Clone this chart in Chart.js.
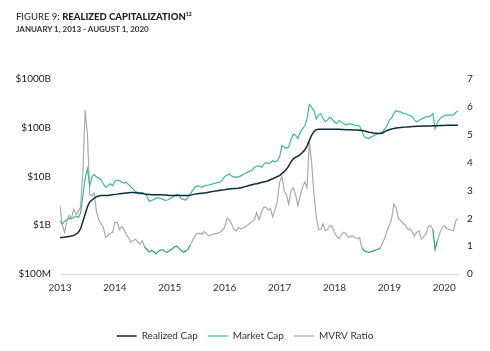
<!DOCTYPE html>
<html>
<head>
<meta charset="utf-8">
<script src="https://cdn.jsdelivr.net/npm/chart.js@4/dist/chart.umd.min.js"></script>
<style>
  body { margin: 0; background: #fff; }
  #wrap { position: relative; width: 490px; height: 351px; }
  #title { position: absolute; left: 16px; top: 11px; font-family: Lato, sans-serif; font-size: 9.5px; color: #222; white-space: nowrap; }
  #title b { font-weight: 900; }
  #title sup { font-size: 5px; font-weight: 900; }
  #sub { position: absolute; left: 16px; top: 24px; font-family: Lato, sans-serif; font-size: 8px; font-weight: 700; color: #333; white-space: nowrap; }
  canvas { position: absolute; left: 0; top: 0; }
</style>
</head>
<body>
<div id="wrap">
  <canvas id="chart" width="490" height="351"></canvas>
  <div id="title">FIGURE 9: <b>REALIZED CAPITALIZATION</b><sup>12</sup></div>
  <div id="sub">JANUARY 1, 2013 - AUGUST 1, 2020</div>
</div>
<script>
// months since Jan 1, 2013 (twice a month)
const months = [
  0, 0.5, 1, 1.5, 2, 2.5, 3, 3.5, 4, 4.5, 5, 5.5, 6, 6.5, 7, 7.5, 8, 8.5, 9, 9.5,
  10, 10.5, 11, 11.5, 12, 12.5, 13, 13.5, 14, 14.5, 15, 15.5, 16, 16.5, 17, 17.5, 18, 18.5, 19, 19.5,
  20, 20.5, 21, 21.5, 22, 22.5, 23, 23.5, 24, 24.5, 25, 25.5, 26, 26.5, 27, 27.5, 28, 28.5, 29, 29.5,
  30, 30.5, 31, 31.5, 32, 32.5, 33, 33.5, 34, 34.5, 35, 35.5, 36, 36.5, 37, 37.5, 38, 38.5, 39, 39.5,
  40, 40.5, 41, 41.5, 42, 42.5, 43, 43.5, 44, 44.5, 45, 45.5, 46, 46.5, 47, 47.5, 48, 48.5, 49, 49.5,
  50, 50.5, 51, 51.5, 52, 52.5, 53, 53.5, 54, 54.5, 55, 55.5, 56, 56.5, 57, 57.5, 58, 58.5, 59, 59.5,
  60, 60.5, 61, 61.5, 62, 62.5, 63, 63.5, 64, 64.5, 65, 65.5, 66, 66.5, 67, 67.5, 68, 68.5, 69, 69.5,
  70, 70.5, 71, 71.5, 72, 72.5, 73, 73.5, 74, 74.5, 75, 75.5, 76, 76.5, 77, 77.5, 78, 78.5, 79, 79.5,
  80, 80.5, 81, 81.5, 82, 82.5, 83, 83.5, 84, 84.5, 85, 85.5, 86, 86.5, 87
];

// billions USD
const realizedCap = [
  0.56, 0.56, 0.57, 0.58, 0.59, 0.6, 0.62, 0.66, 0.71, 0.85,
  1.2, 1.7, 2.4, 3.0, 3.3, 3.6, 3.85, 4.0, 4.06, 4.06,
  4.1, 4.1, 4.15, 4.2, 4.3, 4.35, 4.45, 4.5, 4.55, 4.6,
  4.65, 4.7, 4.7, 4.65, 4.6, 4.5, 4.5, 4.4, 4.3, 4.25,
  4.2, 4.2, 4.2, 4.2, 4.2, 4.18, 4.15, 4.12, 4.1, 4.08,
  4.06, 4.06, 4.06, 4.06, 4.06, 4.06, 4.06, 4.15, 4.25, 4.35,
  4.45, 4.5, 4.55, 4.6, 4.65, 4.75, 4.85, 4.95, 5.05, 5.1,
  5.2, 5.3, 5.35, 5.45, 5.55, 5.6, 5.65, 5.7, 5.75, 5.9,
  6.0, 6.2, 6.4, 6.6, 6.8, 7.0, 7.1, 7.3, 7.5, 7.7,
  7.9, 8.2, 8.6, 9.0, 9.5, 10.0, 10.4, 11.5, 12.6, 14,
  16.5, 20, 23, 25, 26, 28, 31, 35, 42, 55,
  70, 83, 91, 93, 93, 93, 93, 93, 93, 93,
  93, 93, 93, 92.5, 92, 91.5, 91, 90.5, 90, 90,
  90, 89, 88, 86, 84, 81, 80, 78, 77, 76,
  76, 78, 83, 88, 91, 94, 97, 99, 100, 101,
  102, 103, 104, 105, 106, 106, 107, 107, 107, 108,
  108, 109, 109, 110, 110, 110, 111, 111, 111, 112,
  112, 112, 113, 113, 113
];

const marketCap = [
  1.24, 1.06, 1.2, 1.3, 1.4, 1.35, 1.45, 1.55, 1.45, 1.8,
  4.0, 9.0, 14.4, 6.5, 10.0, 11, 9.7, 9.3, 8.5, 7.0,
  6.0, 6.5, 7.1, 6.5, 8.0, 8.3, 8.3, 7.6, 7.3, 7.6,
  6.8, 6.1, 5.5, 4.9, 4.7, 4.7, 4.7, 4.4, 4.0, 3.1,
  3.2, 3.4, 3.6, 3.7, 3.55, 3.4, 3.25, 3.3, 3.47, 3.7,
  4.0, 4.3, 4.2, 3.5, 3.4, 3.3, 3.75, 4.4, 5.2, 6.0,
  6.4, 6.3, 6.0, 6.4, 6.6, 6.7, 6.9, 7.1, 7.3, 7.5,
  7.6, 8.5, 10.0, 10.6, 11.3, 10.2, 9.7, 9.8, 9.7, 10.3,
  11.0, 11.5, 12.3, 13.0, 13.5, 15.5, 16, 16.5, 15.5, 17.5,
  19.5, 18.5, 19, 21, 20, 21, 25, 43, 40, 38,
  40, 58, 74, 70, 60, 80, 95, 110, 150, 300,
  260, 230, 150, 180, 195, 155, 132, 145, 165, 150,
  130, 122, 140, 130, 122, 114, 120, 120, 116, 113,
  112, 108, 85, 65, 62, 60, 65, 68, 72, 76,
  78, 82, 95, 110, 143, 160, 200, 225, 212, 212,
  200, 195, 185, 178, 168, 145, 132, 143, 150, 160,
  167, 167, 175, 196, 96, 128, 150, 168, 175, 181,
  181, 181, 186, 205, 222
];

const mvrvRatio = [
  2.45, 1.75, 1.5, 1.9, 2.1, 2.0, 2.33, 2.15, 2.25, 2.4,
  3.7, 5.88, 5.0, 2.85, 2.8, 2.9, 2.2, 1.95, 1.8, 1.65,
  1.3, 1.4, 1.45, 1.5, 1.85, 1.85, 1.6, 1.7, 1.6, 1.4,
  1.3, 1.15, 1.2, 1.25, 1.15, 1.08, 1.19, 0.97, 0.88, 0.78,
  0.85, 0.8, 0.72, 0.82, 0.86, 0.87, 0.8, 0.78, 0.85, 0.9,
  0.97, 1.0, 0.92, 0.85, 0.78, 0.83, 0.89, 1.05, 1.2, 1.37,
  1.45, 1.47, 1.43, 1.52, 1.45, 1.37, 1.4, 1.43, 1.45, 1.47,
  1.5, 1.58, 1.67, 2.0, 1.95, 1.8, 1.6, 1.55, 1.67, 1.62,
  1.65, 1.7, 1.75, 1.82, 1.88, 1.95, 2.2, 1.95, 2.2, 2.4,
  2.4, 2.3, 2.35, 2.05, 2.3, 2.6, 3.3, 3.5, 3.0, 2.85,
  2.5, 3.0, 3.1, 2.85, 2.45, 2.8, 3.1, 3.3, 3.1, 4.74,
  4.0, 2.9, 2.1, 1.6, 1.6, 1.8, 1.55, 1.6, 1.75, 1.7,
  1.49, 1.35, 1.27, 1.4, 1.5, 1.45, 1.31, 1.35, 1.37, 1.3,
  1.27, 1.3, 0.95, 0.83, 0.8, 0.77, 0.8, 0.83, 0.86, 0.89,
  0.93, 1.1, 1.3, 1.55, 1.75, 2.0, 2.52, 2.35, 2.0, 1.91,
  1.82, 1.75, 1.61, 1.61, 1.5, 1.37, 1.5, 1.55, 1.25, 1.35,
  1.43, 1.7, 1.75, 1.6, 0.89, 1.2, 1.45, 1.65, 1.73, 1.65,
  1.6, 1.58, 1.55, 1.9, 2.0
];

const yearTicks = [2013, 2014, 2015, 2016, 2017, 2018, 2019, 2020];
const capTicks = [0.1, 1, 10, 100, 1000];
const capLabels = ['$100M', '$1B', '$10B', '$100B', '$1000B'];

function toPoints(values) {
  return values.map((v, i) => ({ x: 2013 + months[i] / 12, y: v }));
}

const font = { family: 'Lato, sans-serif', size: 10 };

new Chart(document.getElementById('chart'), {
  type: 'line',
  data: {
    datasets: [
      {
        label: 'Realized Cap',
        data: toPoints(realizedCap),
        yAxisID: 'cap',
        borderColor: '#0d2b3a',
        borderWidth: 1.5,
        pointRadius: 0,
        tension: 0
      },
      {
        label: 'Market Cap',
        data: toPoints(marketCap),
        yAxisID: 'cap',
        borderColor: '#3db996',
        borderWidth: 1.2,
        pointRadius: 0,
        tension: 0
      },
      {
        label: 'MVRV Ratio',
        data: toPoints(mvrvRatio),
        yAxisID: 'ratio',
        borderColor: '#aaaaaa',
        borderWidth: 1.2,
        pointRadius: 0,
        tension: 0,
        segment: {
          // below 1 the ratio is drawn green
          borderColor: ctx => {
            const a = ctx.p0.parsed.y, b = ctx.p1.parsed.y;
            if (Math.max(a, b) < 1.1 || Math.min(a, b) < 0.92) return '#22a862';
            return undefined;
          }
        }
      }
    ]
  },
  options: {
    responsive: false,
    animation: false,
    layout: { padding: { top: 79, bottom: 0, left: 0, right: 0 } },
    plugins: {
      tooltip: { enabled: false },
      legend: {
        position: 'bottom',
        labels: {
          usePointStyle: true,
          pointStyle: 'line',
          pointStyleWidth: 20,
          padding: 10,
          color: '#333',
          font: { family: 'Lato, sans-serif', size: 10 }
        }
      }
    },
    scales: {
      x: {
        type: 'linear',
        min: 2013,
        max: 2013 + 87 / 12,
        grid: { display: false, drawTicks: false },
        border: { display: true, color: '#dddddd', width: 1 },
        afterBuildTicks: s => { s.ticks = yearTicks.map(v => ({ value: v })); },
        afterFit: s => { s.height = 47; },
        ticks: { padding: 8, color: '#333', font: font, maxRotation: 0, callback: v => String(v) }
      },
      cap: {
        type: 'logarithmic',
        position: 'left',
        min: 0.1,
        max: 1000,
        grid: { display: false, drawTicks: false },
        border: { display: false },
        afterBuildTicks: s => { s.ticks = capTicks.map(v => ({ value: v })); },
        afterFit: s => { s.width = 60; },
        ticks: {
          padding: 9,
          color: '#222',
          font: font,
          callback: v => capLabels[capTicks.indexOf(v)]
        }
      },
      ratio: {
        type: 'linear',
        position: 'right',
        min: 0,
        max: 7,
        grid: { display: false, drawTicks: false },
        border: { display: false },
        afterFit: s => { s.width = 32; },
        ticks: { stepSize: 1, padding: 9, color: '#222', font: font }
      }
    }
  }
});
</script>
</body>
</html>
